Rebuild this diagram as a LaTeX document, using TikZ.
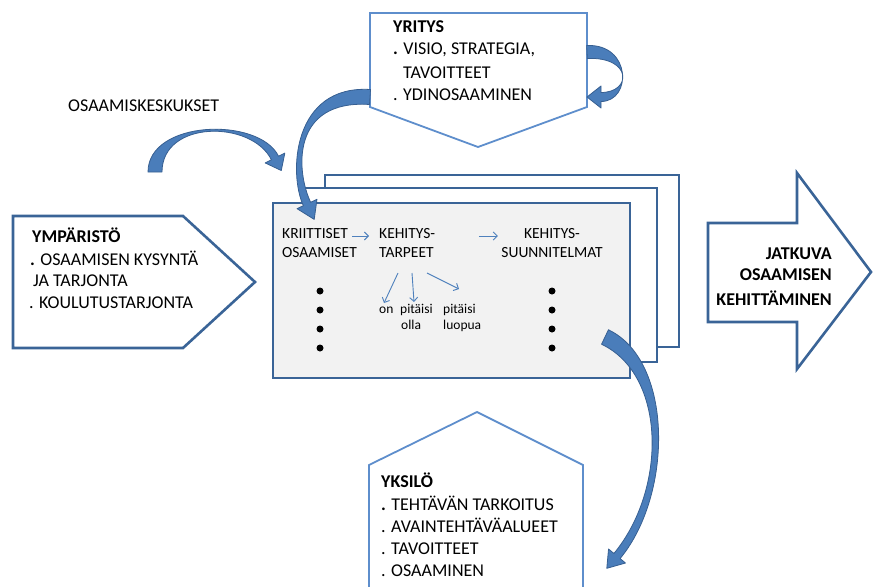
\documentclass[tikz,border=0pt]{standalone}
\usepackage{fontspec}
\setmainfont{Carlito}
\usetikzlibrary{calc,arrows.meta}

\definecolor{darkedge}{HTML}{3A6497}
\definecolor{lightedge}{HTML}{5E8ECC}
\definecolor{arrowfill}{HTML}{4A7DBA}
\definecolor{arrowedge}{HTML}{375F91}
\definecolor{boxfill}{HTML}{F2F2F2}
\definecolor{thinblue}{HTML}{4F81BD}

% Tapered curved block arrow along the cubic (#1)..(#2)..(#3)..(#4):
% #5 half-width at the tail, #6 half-width at the neck,
% #7 half-width of the head, #8 length of the head.
\newcommand\blockarc[8]{%
  \filldraw[fill=arrowfill,draw=arrowedge,line width=0.8pt,line join=round]
    ($(#1)!#5!90:(#2)$) .. controls ($(#2)!#5!-90:(#1)$) and ($(#3)!#6!90:(#4)$) .. ($(#4)!#6!-90:(#3)$)
    -- ($(#4)!#7!-90:(#3)$) -- ($(#4)!-#8!(#3)$) -- ($(#4)!#7!90:(#3)$)
    -- ($(#4)!#6!90:(#3)$) .. controls ($(#3)!#6!-90:(#4)$) and ($(#2)!#5!90:(#1)$) .. ($(#1)!#5!-90:(#2)$)
    -- cycle;}

\tikzset{
  txt/.style={font=\fontsize{18}{22}\selectfont, inner sep=0pt, anchor=base west},
  hd/.style={txt, font=\fontsize{18}{22}\selectfont\bfseries},
  hdr/.style={hd, anchor=base east},
  mid/.style={font=\fontsize{15.5}{19}\selectfont, inner sep=0pt, anchor=base west},
  midc/.style={mid, anchor=base},
  sml/.style={font=\fontsize{13.5}{16}\selectfont, inner sep=0pt, anchor=base west},
  lightshape/.style={draw=lightedge, line width=1.8pt, fill=white, line join=miter},
  darkshape/.style={draw=darkedge, line width=2.6pt, fill=white, line join=miter},
  sheet/.style={draw=darkedge, line width=2.4pt, fill=white},
  thinarr/.style={draw=thinblue, line width=0.9pt, -{Straight Barb[length=4pt,width=8pt]}},
  dot/.style={circle, fill=black, inner sep=0pt, minimum size=7pt},
}

\begin{document}
\begin{tikzpicture}[x=1pt,y=-1pt]
\useasboundingbox (0,0) rectangle (874,586);
\clip (0,0) rectangle (874,586);

% stacked sheets
\draw[sheet] (325,175) rectangle (679,347);
\draw[sheet] (303,188) rectangle (657,362);
\draw[sheet, fill=boxfill] (273,203) rectangle (630,378);

% company pentagon (points down)
\draw[lightshape] (370,13) -- (587,13) -- (587,107) -- (478,147) -- (370,107) -- cycle;
% environment pentagon (points right)
\draw[darkshape] (13,216) -- (183,216) -- (255,282) -- (183,348) -- (13,348) -- cycle;
% individual pentagon (points up)
\draw[lightshape] (369,600) -- (369,465) -- (477,412) -- (583,465) -- (583,600);
% outcome arrow
\draw[darkshape] (708,223) -- (797,223) -- (797,173) -- (871,272) -- (797,369) -- (797,322) -- (708,322) -- cycle;

% texts of the company
\node[hd]  (yr0) at (393,33)  {YRITYS};
\node[txt] (yr1) at (393,55)  {\textbf{.} VISIO, STRATEGIA,};
\node[txt] (yr2) at (403,78)  {TAVOITTEET};
\node[txt] (yr3) at (393,100) {. YDINOSAAMINEN};

\node[txt] (osk) at (68,111) {OSAAMISKESKUKSET};

% texts of the environment
\node[hd]  (ym0) at (32,242) {YMPÄRISTÖ};
\node[txt] (ym1) at (30,265) {\textbf{.} OSAAMISEN KYSYNTÄ};
\node[txt] (ym2) at (33,286) {JA TARJONTA};
\node[txt] (ym3) at (29,308) {. KOULUTUSTARJONTA};

% texts of the individual
\node[hd]  (yk0) at (381,487) {YKSILÖ};
\node[txt] (yk1) at (381,510) {\textbf{.} TEHTÄVÄN TARKOITUS};
\node[txt] (yk2) at (381,532) {. AVAINTEHTÄVÄALUEET};
\node[txt] (yk3) at (381,554) {. TAVOITTEET};
\node[txt] (yk4) at (381,576) {. OSAAMINEN};

% outcome text
\node[hdr] (ja0) at (832,259) {JATKUVA};
\node[hdr] (ja1) at (832,280) {OSAAMISEN};
\node[hdr] (ja2) at (832,305) {KEHITTÄMINEN};

% front sheet contents
\node[mid]  (kr1) at (282,238) {KRIITTISET};
\node[mid]  (kr2) at (282,257) {OSAAMISET};
\node[mid]  (ke1) at (379,238) {KEHITYS-};
\node[mid]  (ke2) at (379,257) {TARPEET};
\node[midc] (su1) at (552,238) {KEHITYS-};
\node[midc] (su2) at (552,257) {SUUNNITELMAT};

\node[sml] (on)  at (379,313) {on};
\node[sml] (pi1) at (400,313) {pitäisi};
\node[sml] (ol)  at (401,329) {olla};
\node[sml] (pi2) at (443,313) {pitäisi};
\node[sml] (lu)  at (443,329) {luopua};

\draw[thinarr] ([shift={(4,-2)}]kr1.base east) -- ([shift={(-10,-2)}]ke1.base west);
\draw[thinarr] ([shift={(-45,-2)}]su1.base west) -- ([shift={(-26,-2)}]su1.base west);
\draw[thinarr] ([shift={(19,16)}]ke2.base west) -- ([shift={(5,-10)}]on.base west);
\draw[thinarr] ([shift={(33,16)}]ke2.base west) -- ([shift={(14,-11)}]pi1.base west);
\draw[thinarr] ([shift={(48,16)}]ke2.base west) -- ([shift={(16,-24)}]pi2.base west);

\foreach \i/\yy in {1/291,2/310,3/329,4/348}{
  \node[dot] (dl\i) at (320,\yy) {};
  \node[dot] (dr\i) at (552,\yy) {};
}

% curved block arrows
\coordinate (a0) at (155,172); \coordinate (a1) at (155,120);
\coordinate (a2) at (255,118); \coordinate (a3) at (275,158);
\blockarc{a0}{a1}{a2}{a3}{7pt}{4pt}{11pt}{14pt}

\coordinate (b0) at (370,97); \coordinate (b1) at (292,92);
\coordinate (b2) at (292,172); \coordinate (b3) at (307,204);
\blockarc{b0}{b1}{b2}{b3}{7.5pt}{4pt}{11pt}{17pt}

\coordinate (c0) at (587,52); \coordinate (c1) at (632,50);
\coordinate (c2) at (632,97); \coordinate (c3) at (601,97);
\blockarc{c0}{c1}{c2}{c3}{6.5pt}{4.5pt}{11pt}{14pt}

\coordinate (d0) at (605,337); \coordinate (d1) at (670,368);
\coordinate (d2) at (670,492); \coordinate (d3) at (617,556);
\blockarc{d0}{d1}{d2}{d3}{8pt}{4pt}{11pt}{16pt}
\end{tikzpicture}
\end{document}
